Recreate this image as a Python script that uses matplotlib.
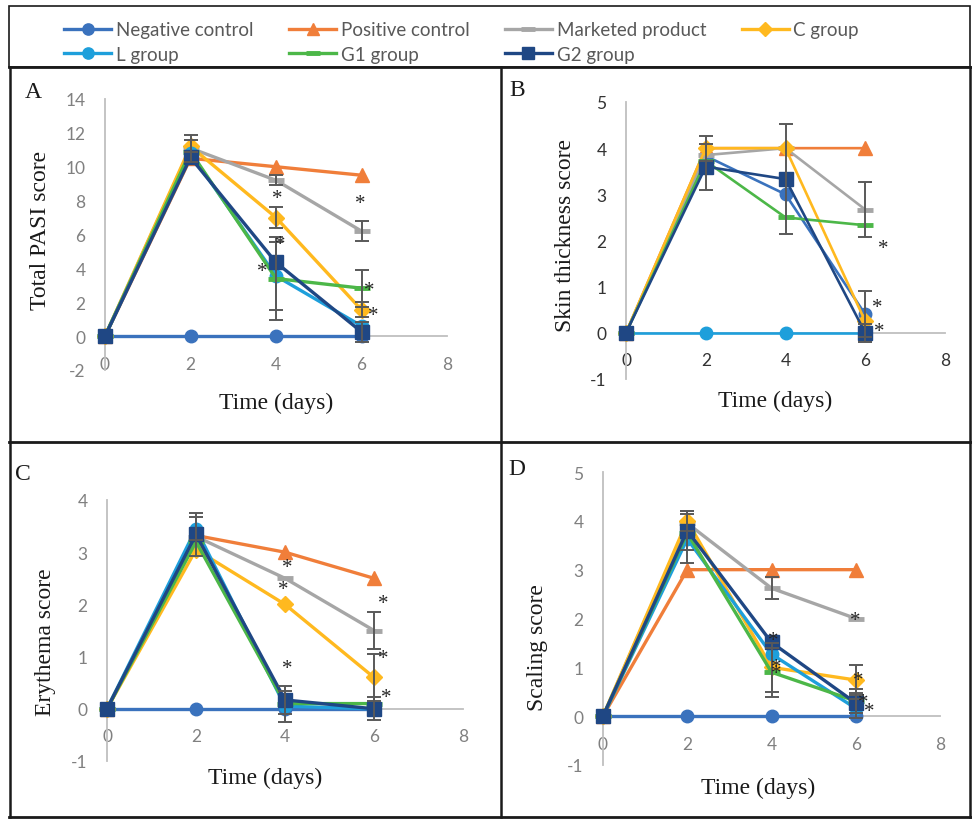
import matplotlib
matplotlib.use("Agg")
import matplotlib.pyplot as plt
from matplotlib.lines import Line2D
from matplotlib.patches import Rectangle

plt.rcParams['font.family'] = ['Lato', 'DejaVu Sans']
plt.rcParams['axes.unicode_minus'] = False

# --- veri ---
days = [0, 2, 4, 6]
groups = ["Negative control", "Positive control", "Marketed product", "C group",
          "L group", "G1 group", "G2 group"]

# A: Total PASI score
pasi_mean = [
    [0, 0, 0, 0],
    [0, 10.5, 10.0, 9.5],
    [0, 11.1, 9.2, 6.2],
    [0, 11.2, 7.0, 1.55],
    [0, 10.8, 3.55, 0.6],
    [0, 10.9, 3.4, 2.83],
    [0, 10.55, 4.35, 0.25],
]
pasi_err = [
    [0, 0, 0, 0],
    [0, 0, 0, 0],
    [0, 0.8, 0.3, 0.57],
    [0, 0.35, 0.6, 0.45],
    [0, 0, 2.0, 0],
    [0, 0, 2.45, 1.1],
    [0, 0, 0, 0.6],
]
pasi_stars = [(4.02, 8.15), (4.09, 5.43), (3.67, 3.8), (5.98, 7.84), (6.18, 2.68), (6.28, 1.2)]

# B: Skin thickness score
thick_mean = [
    [0, 3.83, 3.0, 0.4],
    [0, 4.0, 4.0, 4.0],
    [0, 3.85, 4.0, 2.67],
    [0, 4.0, 4.0, 0.25],
    [0, 0, 0, 0],
    [0, 3.72, 2.5, 2.33],
    [0, 3.6, 3.33, 0],
]
thick_err = [
    [0, 0, 0, 0.5],
    [0, 0, 0, 0],
    [0, 0, 0, 0.6],
    [0, 0.27, 0, 0],
    [0, 0, 0, 0],
    [0, 0, 0, 0],
    [0, 0.5, 1.2, 0.2],
]
thick_stars = [(6.45, 1.82), (6.31, 0.54), (6.35, 0.03)]

# C: Erythema score
ery_mean = [
    [0, 0, 0, 0],
    [0, 3.32, 3.0, 2.5],
    [0, 3.3, 2.5, 1.5],
    [0, 3.05, 2.0, 0.6],
    [0, 3.45, 0.05, 0],
    [0, 3.2, 0.1, 0.1],
    [0, 3.34, 0.17, 0],
]
ery_err = [
    [0, 0, 0, 0],
    [0, 0, 0, 0],
    [0, 0, 0, 0.35],
    [0, 0, 0, 0.45],
    [0, 0.22, 0.3, 0],
    [0, 0, 0, 0],
    [0, 0.42, 0.27, 0.22],
]
ery_stars = [(4.05, 2.7), (3.95, 2.28), (4.05, 0.77), (6.2, 2.01), (6.2, 0.96), (6.27, 0.22)]

# D: Scaling score
scal_mean = [
    [0, 0, 0, 0],
    [0, 3.0, 3.0, 3.0],
    [0, 3.95, 2.62, 2.0],
    [0, 4.0, 1.0, 0.74],
    [0, 3.63, 1.27, 0.16],
    [0, 3.75, 0.9, 0.31],
    [0, 3.8, 1.51, 0.27],
]
scal_err = [
    [0, 0, 0, 0],
    [0, 0, 0, 0],
    [0, 0, 0.22, 0],
    [0, 0.2, 0.5, 0.3],
    [0, 0.5, 0, 0.2],
    [0, 0, 0.5, 0.25],
    [0, 0.4, 0, 0.2],
]
scal_stars = [(5.99, 1.95), (4.05, 1.54), (4.12, 1.0), (4.12, 0.88), (6.06, 0.74), (6.17, 0.28), (6.33, 0.09)]

# --- stil ---
colors = ["#3A72BD", "#F07E3A", "#A6A6A6", "#FFB91F", "#1E9FDB", "#4CB748", "#1F4784"]
markers = ["o", "^", "_", "D", "o", "_", "s"]
msizes = [9, 10, 11, 8, 9, 11, 9.5]

W, H = 972, 820
fig = plt.figure(figsize=(W / 100, H / 100), dpi=100)


def fx(x):
    return x / W


def fy(y):
    return 1 - y / H


def make_ax(x0, ytop, x8, ybot):
    return fig.add_axes([fx(x0), fy(ybot), (x8 - x0) / W, (ybot - ytop) / H])


def draw_panel(ax, means, errs, stars, ylim, yticks, ylabel, tick_color, lw, xlab_pos, ylab_pos):
    for i, name in enumerate(groups):
        ax.plot(days, means[i], color=colors[i], lw=lw, marker=markers[i], ms=msizes[i],
                mec=colors[i], mew=3.5 if markers[i] == "_" else 1, clip_on=False,
                zorder=3 + i, label=name)
    for i in range(len(groups)):
        idx = [k for k in range(len(days)) if errs[i][k] > 0]
        if not idx:
            continue
        ax.errorbar([days[k] for k in idx], [means[i][k] for k in idx],
                    yerr=[errs[i][k] for k in idx], fmt="none", ecolor="#595959",
                    elinewidth=1.4, capsize=5, capthick=1.4, zorder=12, clip_on=False)
    for sx, sy in stars:
        ax.text(sx, sy, "*", ha="center", va="center", fontsize=15, color="#262626",
                family="Liberation Serif", zorder=15)
    ax.set_xlim(0, 8)
    ax.set_ylim(*ylim)
    ax.set_xticks([0, 2, 4, 6, 8])
    ax.set_yticks(yticks)
    ax.spines["top"].set_visible(False)
    ax.spines["right"].set_visible(False)
    ax.spines["bottom"].set_position(("data", 0))
    for s in ("left", "bottom"):
        ax.spines[s].set_color("#BFBFBF")
        ax.spines[s].set_linewidth(1.3)
    ax.tick_params(length=0, labelsize=12.5, labelcolor=tick_color)
    ax.tick_params(axis="x", pad=14)
    ax.tick_params(axis="y", pad=14)
    ax.set_xlabel("Time (days)", family="Liberation Serif", fontsize=17, color="#1a1a1a")
    ax.set_ylabel(ylabel, family="Liberation Serif", fontsize=17, color="#1a1a1a")
    ax.xaxis.set_label_coords(*xlab_pos)
    ax.xaxis.label.set_va("center")
    ax.yaxis.set_label_coords(*ylab_pos)
    ax.yaxis.label.set_va("center")
    ax.patch.set_alpha(0)


axA = make_ax(105, 100, 447, 371)
draw_panel(axA, pasi_mean, pasi_err, pasi_stars, (-2, 14), range(-2, 15, 2),
           "Total PASI score", "#808080", 2.4, (0.50, -0.118), (-0.19, 0.52))

axB = make_ax(626, 103, 945, 380)
draw_panel(axB, thick_mean, thick_err, thick_stars, (-1, 5), range(-1, 6),
           "Skin thickness score", "#333333", 1.9, (0.467, -0.079), (-0.19, 0.52))

axC = make_ax(107, 501, 463, 762)
draw_panel(axC, ery_mean, ery_err, ery_stars, (-1, 4), range(-1, 5),
           "Erythema score", "#808080", 2.4, (0.444, -0.061), (-0.174, 0.46))

axD = make_ax(603, 473, 940, 766)
draw_panel(axD, scal_mean, scal_err, scal_stars, (-1, 5), range(-1, 6),
           "Scaling score", "#808080", 2.4, (0.46, -0.075), (-0.193, 0.403))

# panel harfleri
for letter, (lx, ly) in {"A": (33, 93), "B": (517, 90), "C": (23, 475), "D": (517, 470)}.items():
    fig.text(fx(lx), fy(ly), letter, family="Liberation Serif", fontsize=17,
             ha="center", va="center", color="#1a1a1a")

# tablo çizgileri
def line(x1, y1, x2, y2, lw=1.8):
    fig.add_artist(Line2D([fx(x1), fx(x2)], [fy(y1), fy(y2)], color="#1a1a1a", lw=lw))


fig.add_artist(Rectangle((fx(9), fy(68)), (961) / W, 61 / H, fill=False,
                         edgecolor="#1a1a1a", lw=1.2))
line(9, 68, 971, 68, 2.0)
line(9, 443, 971, 443, 2.0)
line(9, 818, 971, 818, 2.0)
line(10, 68, 10, 818)
line(501, 68, 501, 818)
line(970, 68, 970, 818)

# lejant: satır satır sıralama için sütun düzenine çevir
handles, labels = axA.get_legend_handles_labels()
order = [0, 4, 1, 5, 2, 6, 3]
fig.legend([handles[k] for k in order], [labels[k] for k in order], ncol=4,
           loc="upper left", bbox_to_anchor=(fx(55), fy(13)),
           frameon=False, fontsize=13.5, labelcolor="#595959", handlelength=2.5,
           handletextpad=0.25, columnspacing=1.9, labelspacing=0.4, borderpad=0,
           numpoints=1, markerscale=0.9)

fig.savefig("out.png", dpi=100)
